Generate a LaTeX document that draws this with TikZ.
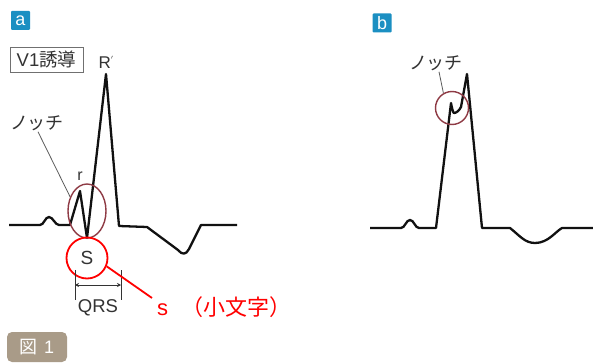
\documentclass[tikz,border=0pt]{standalone}
\usepackage{fontspec}
\setmainfont{Liberation Sans}
\newfontfamily\jp{Noto Sans CJK JP}
\usetikzlibrary{arrows.meta,shapes.geometric,calc}
\definecolor{tagblue}{HTML}{1B8FC2}
\definecolor{ringdark}{HTML}{8E3A44}
\definecolor{figtag}{HTML}{A99B88}
\definecolor{ecgcol}{HTML}{111111}
\definecolor{txtgray}{HTML}{333333}
\begin{document}
\begin{tikzpicture}[x=1pt,y=-1pt,
  ecgline/.style={line width=2.3pt, line join=round, draw=ecgcol},
  leader/.style={line width=0.8pt, draw=txtgray!80},
  tagbox/.style={fill=tagblue, text=white, minimum size=19pt, inner sep=0pt, rounded corners=1pt, font=\fontsize{18}{18}\selectfont},
  lbl/.style={text=txtgray, inner sep=0pt},
  darkring/.style={draw=ringdark, line width=1.4pt},
]
\useasboundingbox (0,0) rectangle (593,363);
\fill[white] (0,0) rectangle (593,363);

% ---------- panel a ----------
\node[tagbox] (taga) at (20.5,20.5) {a};
\node[draw=txtgray!70, line width=0.8pt, minimum width=73pt, minimum height=25pt, inner sep=0pt, text=txtgray, font=\fontsize{18.5}{18.5}\selectfont] (lead) at (46.5,59.5) {V1{\jp 誘導}};
\node[lbl, font=\fontsize{17}{17}\selectfont] (Rp) at (106,62) {R\raisebox{0.55ex}{\fontsize{9}{9}\selectfont$'$}};
\node[lbl, font=\fontsize{18}{18}\jp] (notchA) at (37,123) {ノッチ};
\node[lbl, font=\fontsize{16}{16}\selectfont] (rlab) at (80,176) {r};

\draw[ecgline] (9,225) -- (40,225)
  .. controls (44,225) and (45,217) .. (49,217)
  .. controls (53,217) and (55,225) .. (59,225)
  -- (70,225) -- (80,191) -- (87,238) -- (106,74) -- (119,226) -- (147,227)
  -- (178,250) .. controls (182,255) and (186,255) .. (189,249)
  -- (201,225) -- (237,225);

\node[ellipse, darkring, minimum width=38pt, minimum height=54pt, inner sep=0pt] (rring) at (87,211) {};
\draw[leader] (notchA.south) ++(1,1) -- (rring.140);

\node[circle, draw=red, line width=1.8pt, minimum size=41pt, inner sep=0pt, text=txtgray, font=\fontsize{19}{19}\selectfont] (sring) at (87,258) {S};

\coordinate (qL) at (75,270);
\coordinate (qR) at (121,270);
\draw[line width=0.8pt, draw=txtgray] (qL) -- ++(0,30);
\draw[line width=0.8pt, draw=txtgray] (qR) -- ++(0,30);
\draw[line width=0.8pt, draw=txtgray, {Stealth[length=4pt,width=4pt]}-{Stealth[length=4pt,width=4pt]}] ($(qL)+(0,15)$) -- ($(qR)+(0,15)$);
\node[lbl, font=\fontsize{18.5}{18.5}\selectfont] (qrs) at (98,308) {QRS};

\node[anchor=west, inner sep=0pt, text=red, font=\fontsize{22}{22}\selectfont] (small) at (157,307) {s\hspace{0.6em}{\jp （小文字）}};
\coordinate (redend) at (152,298);
\draw[red, line width=1.8pt] (sring.-23) -- (redend);

\node[fill=figtag, rounded corners=5pt, minimum width=60pt, minimum height=30pt, inner sep=0pt, text=white, font=\fontsize{18}{18}\selectfont] (fig) at (37,347) {{\jp 図}\hspace{0.35em}1};

% ---------- panel b ----------
\node[tagbox] (tagb) at (382,23) {b};
\node[lbl, font=\fontsize{18}{18}\jp] (notchB) at (436,63) {ノッチ};

\draw[ecgline] (370,228) -- (401,228)
  .. controls (405,228) and (406,220) .. (410,220)
  .. controls (414,220) and (415,228) .. (419,228)
  -- (436,228) -- (451,103)
  .. controls (452,108) and (453,113) .. (454,113)
  .. controls (456,113) and (459,111) .. (461,107)
  -- (467,74) -- (482,228) -- (510,228)
  .. controls (520,236) and (525,243) .. (535,243)
  .. controls (548,243) and (555,232) .. (562,228)
  -- (593,228);

\node[circle, darkring, minimum size=33pt, inner sep=0pt] (nring) at (452,108) {};
\draw[leader] (notchB.south) ++(3,1) -- (nring.120);
\end{tikzpicture}
\end{document}
